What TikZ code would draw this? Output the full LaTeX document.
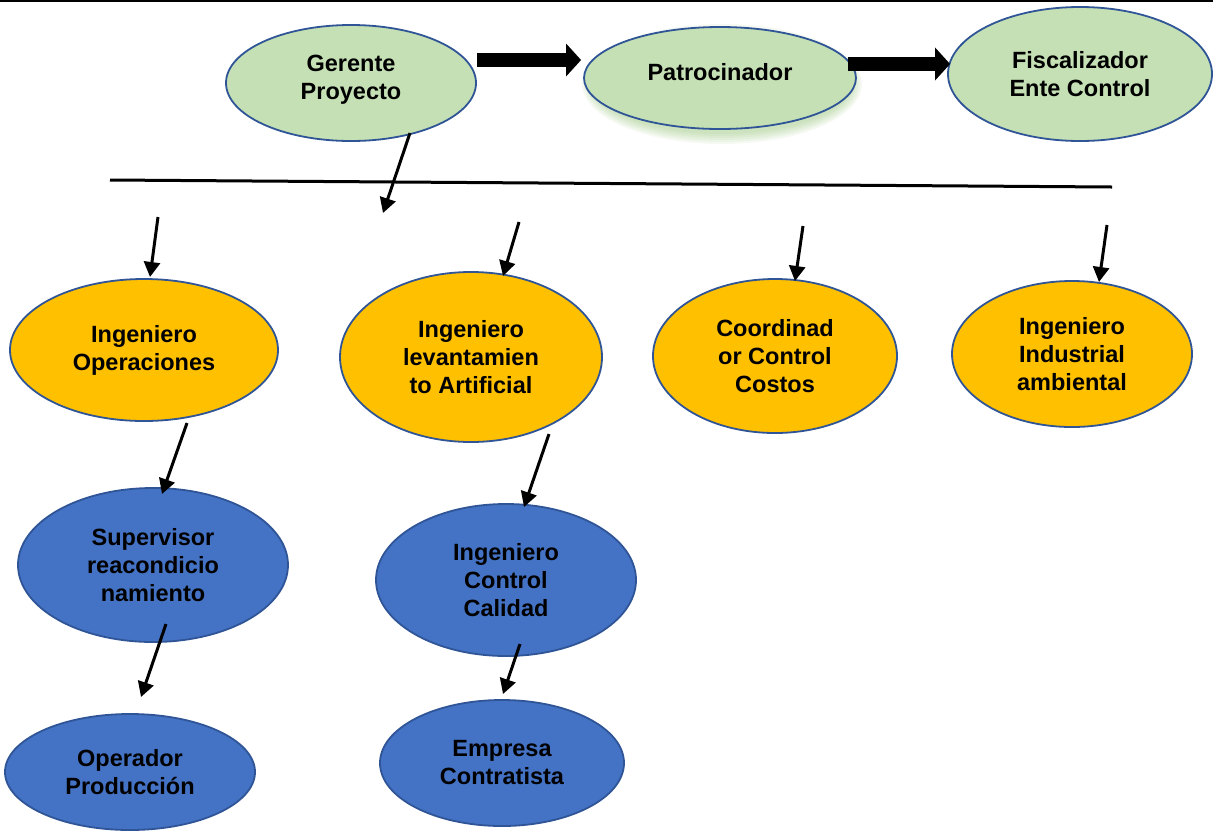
\documentclass[tikz,border=0pt]{standalone}
\usepackage{fontspec}
\setmainfont{Liberation Sans}
\usetikzlibrary{arrows.meta,shapes.geometric}

\definecolor{leafgreen}{HTML}{C5E0B4}
\definecolor{amber}{HTML}{FFC000}
\definecolor{royal}{HTML}{4472C4}
\definecolor{rim}{HTML}{2F5597}
\definecolor{glow}{HTML}{70AD47}

\tikzset{
  bubble/.style={ellipse, draw=rim, line width=1.8pt, inner sep=0pt,
    align=center, font=\fontsize{23.5}{28}\selectfont\bfseries},
  topbubble/.style={bubble, fill=leafgreen},
  midbubble/.style={bubble, fill=amber},
  lowbubble/.style={bubble, fill=royal},
  pointer/.style={line width=3pt, -{Triangle[length=15pt,width=16pt]}},
  blockarrow/.style={line width=14pt, -{Triangle[length=15pt,width=32pt]}},
  haze/.style={fill=glow, opacity=0.07},
}

\begin{document}
\begin{tikzpicture}[x=1pt,y=-1pt]
\useasboundingbox (0,0) rectangle (1213,831);

% top rule
\coordinate (ruleL) at (0,1);
\coordinate (ruleR) at (1213,1);
\draw[line width=2pt] (ruleL) -- (ruleR);

% soft green glow under the sponsor bubble
\foreach \g in {0,2,4,6,8,10}
  \fill[haze] (722,84) ellipse [x radius=130+\g, y radius=50+\g];

% first row
\node[topbubble, minimum width=250pt, minimum height=116pt, text depth=12pt] (ger) at (351,83) {Gerente\\Proyecto};
\node[topbubble, minimum width=272pt, minimum height=102pt, text depth=12pt] (pat) at (720,78) {Patrocinador};
\node[topbubble, minimum width=264pt, minimum height=134pt] (fis) at (1080,74) {Fiscalizador\\Ente Control};

\draw[blockarrow] ([shift={(0,-23)}]ger.east) -- ([shift={(-2,-18)}]pat.west);
\draw[blockarrow] ([shift={(-9,-14)}]pat.east) -- ([shift={(3,-10)}]fis.west);

% distribution bar
\coordinate (barL) at (110,180);
\coordinate (barR) at (1112,187);
\draw[line width=3pt] (barL) -- (barR);

\coordinate (gerTip) at (383,213);
\draw[pointer] ([shift={(59,50)}]ger.center) -- (gerTip);

% second row
\node[midbubble, minimum width=268pt, minimum height=142pt] (opa) at (144,350) {Ingeniero\\Operaciones};
\node[midbubble, minimum width=262pt, minimum height=170pt] (lev) at (471,357) {Ingeniero\\levantamien\\to Artificial};
\node[midbubble, minimum width=244pt, minimum height=154pt] (coo) at (775,356) {Coordinad\\or Control\\Costos};
\node[midbubble, minimum width=240pt, minimum height=146pt] (ind) at (1072,354) {Ingeniero\\Industrial\\ambiental};

\coordinate (in1) at (158,217);
\coordinate (in2) at (519,222);
\coordinate (in3) at (803,226);
\coordinate (in4) at (1107,225);
\draw[pointer] (in1) -- ([shift={(6,-73)}]opa.center);
\draw[pointer] (in2) -- ([shift={(32,-81)}]lev.center);
\draw[pointer] (in3) -- ([shift={(20,-75)}]coo.center);
\draw[pointer] (in4) -- ([shift={(27,-72)}]ind.center);

% third and fourth rows
\node[lowbubble, minimum width=270pt, minimum height=154pt] (sup) at (153,565) {Supervisor\\reacondicio\\namiento};
\node[lowbubble, minimum width=260pt, minimum height=152pt] (cal) at (506,580) {Ingeniero\\Control\\Calidad};
\node[lowbubble, minimum width=250pt, minimum height=116pt] (opp) at (130,772) {Operador\\Producción};
\node[lowbubble, minimum width=244pt, minimum height=126pt] (emp) at (502,763) {Empresa\\Contratista};

\draw[pointer] ([shift={(43,73)}]opa.center) -- ([shift={(9,-71)}]sup.center);
\draw[pointer] ([shift={(78,77)}]lev.center) -- ([shift={(18,-73)}]cal.center);
\draw[pointer] ([shift={(13,59)}]sup.center) -- ([shift={(11,-75)}]opp.center);
\draw[pointer] ([shift={(14,64)}]cal.center) -- ([shift={(1,-69)}]emp.center);
\end{tikzpicture}
\end{document}
